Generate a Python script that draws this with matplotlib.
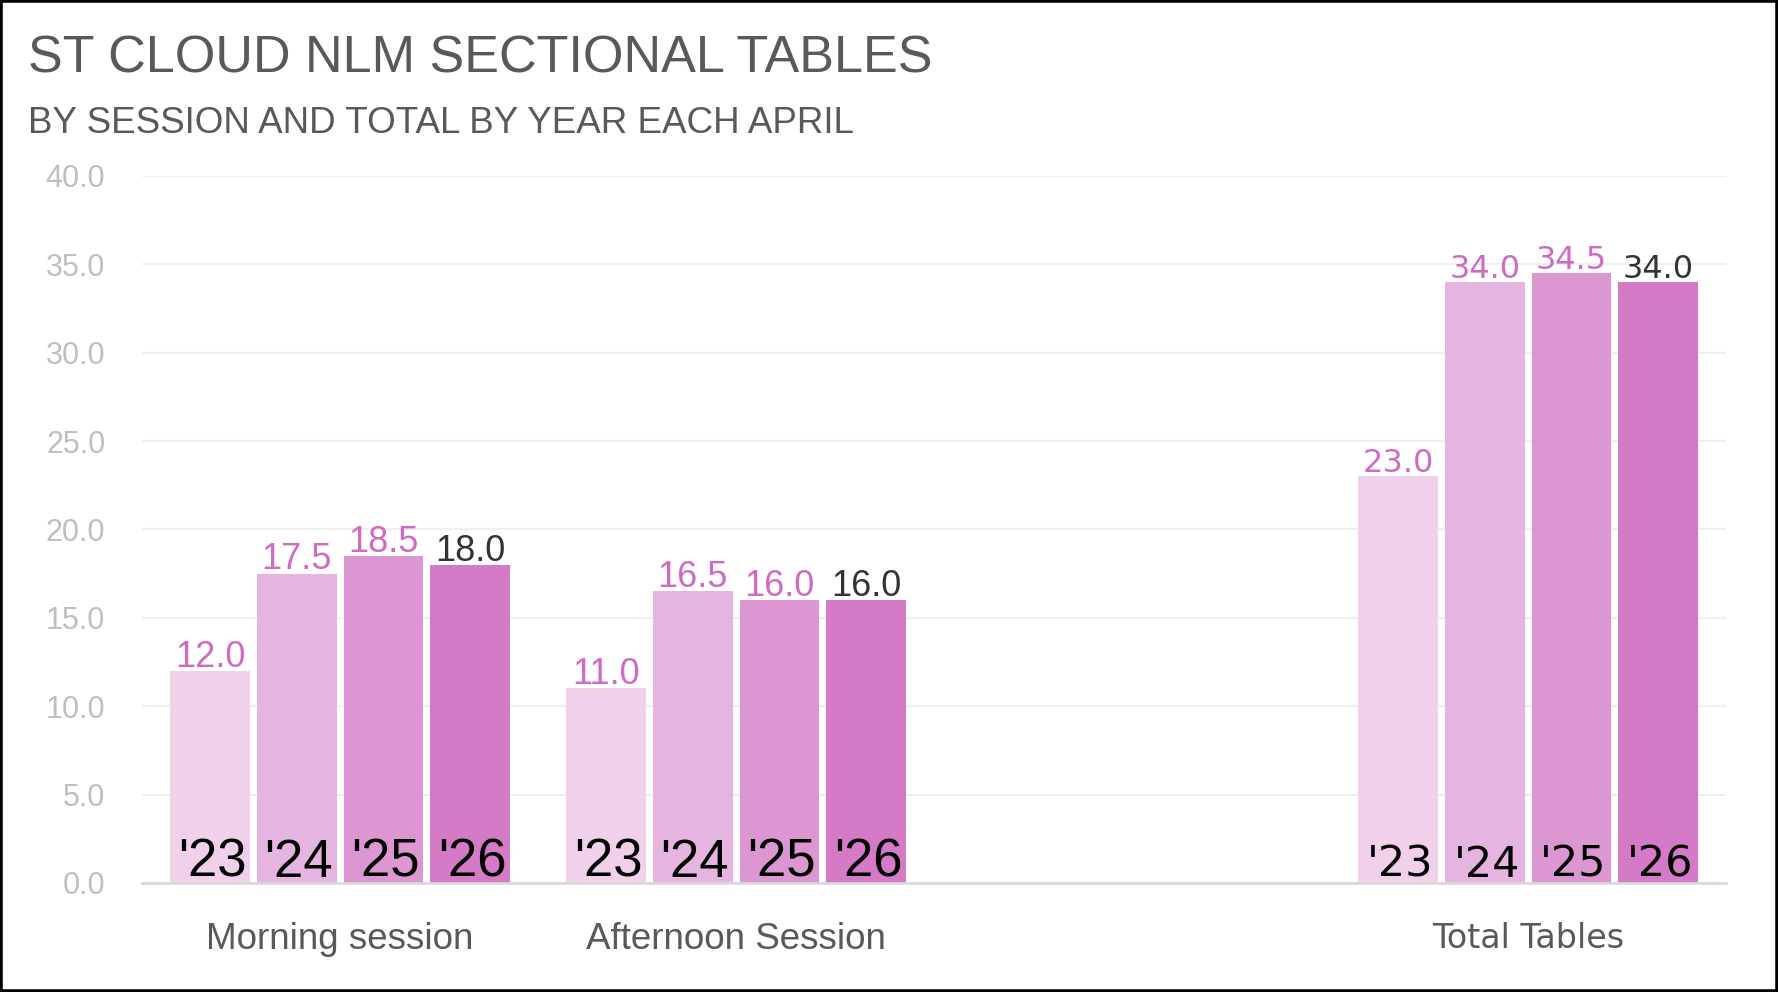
import numpy as np
import matplotlib
matplotlib.use('Agg')
import matplotlib.pyplot as plt
from matplotlib.patches import Rectangle
from matplotlib.transforms import ScaledTranslation

# data
categories = ['Morning session', 'Afternoon Session', '', 'Total Tables']
years = ["'23", "'24", "'25", "'26"]
tables_23 = [12.0, 11.0, np.nan, 23.0]
tables_24 = [17.5, 16.5, np.nan, 34.0]
tables_25 = [18.5, 16.0, np.nan, 34.5]
tables_26 = [18.0, 16.0, np.nan, 34.0]
series = [tables_23, tables_24, tables_25, tables_26]

bar_colors = ['#F0D0EA', '#E6B4E0', '#DC97D3', '#D47AC6']
label_colors = ['#D06AC4', '#D06AC4', '#D06AC4', '#333333']

narrow = ['Liberation Sans', 'DejaVu Sans']
wide = ['DejaVu Sans']

fig = plt.figure(figsize=(17.78, 9.92), dpi=100)
ax = fig.add_axes([0.0799, 0.110, 0.8909, 0.7126])

x = np.arange(len(categories))
slot = 0.2187
width = 0.201

for i, vals in enumerate(series):
    pos = x + (i - 1.5) * slot
    ax.bar(pos, vals, width, color=bar_colors[i], zorder=2)
    for j, v in enumerate(vals):
        if np.isnan(v):
            continue
        if categories[j] == 'Total Tables':
            fam, vsize, ysize = wide, 23, 31
        else:
            fam, vsize, ysize = narrow, 26, 38
        ax.annotate(f'{v:.1f}', (pos[j], v), xytext=(0, 3), textcoords='offset points',
                    ha='center', va='baseline', fontsize=vsize, color=label_colors[i],
                    family=fam, zorder=3)
        ax.text(pos[j] + 0.005, 0.35, years[i], ha='center', va='baseline', fontsize=ysize,
                color='black', family=fam, zorder=3)

ax.set_xlim(-0.5, 3.5)
ax.set_ylim(0, 40)
ticks = np.arange(0, 41, 5)
ax.set_yticks(ticks)
ax.set_yticklabels([f'{t:.1f}' for t in ticks], fontsize=22, color='#BFBFBF', family=narrow)
ax.set_xticks(x)
ax.set_xticklabels(categories, fontsize=26.5, color='#595959', family=narrow)
for lab in ax.get_xticklabels():
    if lab.get_text() == 'Total Tables':
        lab.set_family(wide)
        lab.set_fontsize(24)
        lab.set_transform(lab.get_transform() + ScaledTranslation(0, -3 / 72, fig.dpi_scale_trans))
ax.tick_params(axis='both', length=0)
ax.tick_params(axis='x', pad=28)
ax.tick_params(axis='y', pad=26.5)
ax.grid(axis='y', color='#EFEFEF', lw=1.6, zorder=0)
ax.set_axisbelow(True)
for s in ['top', 'right', 'left']:
    ax.spines[s].set_visible(False)
ax.spines['bottom'].set_color('#D9D9D9')
ax.spines['bottom'].set_linewidth(2)
ax.spines['bottom'].set_zorder(4)

fig.text(0.0158, 0.927, 'ST CLOUD NLM SECTIONAL TABLES', fontsize=37.5, color='#595959',
         family=narrow, va='baseline')
fig.text(0.0158, 0.866, 'BY SESSION AND TOTAL BY YEAR EACH APRIL', fontsize=26.5,
         color='#595959', family=narrow, va='baseline')

fig.patches.append(Rectangle((0, 0), 1, 1, transform=fig.transFigure, fill=False,
                             edgecolor='black', lw=4))

fig.savefig('out.png', dpi=100)
